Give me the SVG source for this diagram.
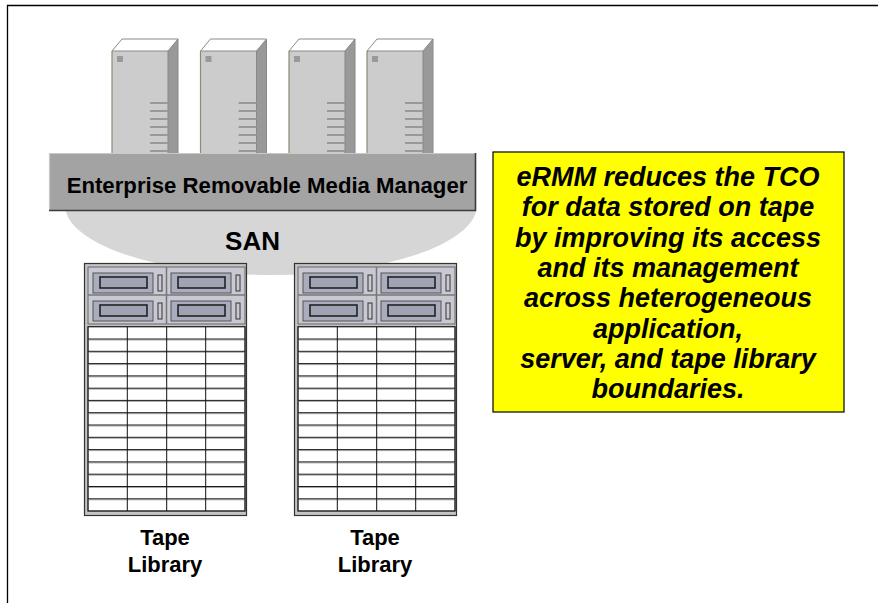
<svg xmlns="http://www.w3.org/2000/svg" xmlns:xlink="http://www.w3.org/1999/xlink" width="878" height="603" viewBox="0 0 878 603">
  <style>
    .lbl { font-family: "Liberation Sans", Arial, sans-serif; font-weight: bold; fill: #000; text-anchor: middle; }
    .note { font-family: "Liberation Sans", Arial, sans-serif; font-weight: bold; font-style: italic; font-size: 27px; fill: #000; text-anchor: middle; }
    .vent { fill: #999999; }
  </style>
  <defs>
    <!-- keeps only the part of the SAN cloud below the manager bar -->
    <clipPath id="belowBar">
      <rect x="0" y="211" width="878" height="392"/>
    </clipPath>
    <!-- tower server, origin at front-face top-left -->
    <g id="tower">
      <rect x="0" y="0" width="56" height="110" fill="#cccccc"/>
      <polygon points="56,0 66,-12 66,110 56,110" fill="#999999" stroke="#888888" stroke-width="1"/>
      <polygon points="0,0 10,-12 66,-12 56,0" fill="#ffffff" stroke="#8a8a8a" stroke-width="1"/>
      <line x1="0" y1="0" x2="0" y2="110" stroke="#8c8c74" stroke-width="1.2"/>
      <rect x="5" y="5" width="6" height="6" fill="#999999"/>
      <rect class="vent" x="38" y="51" width="18" height="2"/>
      <rect class="vent" x="38" y="59" width="18" height="2"/>
      <rect class="vent" x="38" y="67" width="18" height="2"/>
      <rect class="vent" x="38" y="75" width="18" height="2"/>
      <rect class="vent" x="38" y="83" width="18" height="2"/>
      <rect class="vent" x="38" y="91" width="18" height="2"/>
      <rect class="vent" x="38" y="99" width="18" height="2"/>
    </g>
    <!-- one drive bay of the tape library -->
    <g id="bay">
      <rect x="5" y="5" width="60" height="20" fill="#a9adbd" stroke="#555555" stroke-width="1"/>
      <rect x="12" y="9" width="47" height="11" fill="#9fa3b3" stroke="#222222" stroke-width="1.6"/>
      <rect x="70" y="7" width="4" height="16" fill="#c8c9d2" stroke="#333333" stroke-width="1"/>
    </g>
    <!-- tape library cabinet, origin at top-left -->
    <g id="library">
      <rect x="0.5" y="0.5" width="162" height="252" fill="#c4c4c4" stroke="#333333" stroke-width="1.2"/>
      <rect x="4" y="4" width="157" height="57" fill="#c8c9d2" stroke="#666666" stroke-width="1"/>
      <line x1="82.5" y1="4" x2="82.5" y2="61" stroke="#777777" stroke-width="1.5"/>
      <line x1="4" y1="32" x2="161" y2="32" stroke="#777777" stroke-width="1.5"/>
      <use xlink:href="#bay" x="4" y="5"/>
      <use xlink:href="#bay" x="82" y="5"/>
      <use xlink:href="#bay" x="4" y="33"/>
      <use xlink:href="#bay" x="82" y="33"/>
      <rect x="4" y="63.7" width="157" height="184.3" fill="#ffffff" stroke="#333333" stroke-width="1"/>
      <path d="M4 77 h157 M4 89.3 h157 M4 101.6 h157 M4 113.9 h157 M4 126.2 h157 M4 138.4 h157 M4 150.7 h157 M4 163 h157 M4 175.3 h157 M4 187.6 h157 M4 199.9 h157 M4 212.2 h157 M4 224.5 h157 M4 236.8 h157" stroke="#a8a8a8" stroke-width="1" fill="none"/>
      <path d="M4 76 h157 M4 88.3 h157 M4 100.6 h157 M4 112.9 h157 M4 125.2 h157 M4 137.4 h157 M4 149.7 h157 M4 162 h157 M4 174.3 h157 M4 186.6 h157 M4 198.9 h157 M4 211.2 h157 M4 223.5 h157 M4 235.8 h157" stroke="#1a1a1a" stroke-width="1" fill="none"/>
      <path d="M43.3 63.7 V248 M82.7 63.7 V248 M121.7 63.7 V248" stroke="#111111" stroke-width="1" fill="none"/>
      <rect x="4" y="63.7" width="157" height="184.3" fill="none" stroke="#222222" stroke-width="1"/>
    </g>
  </defs>

  <!-- page frame -->
  <path d="M7.5 603 V5.5 H878" fill="none" stroke="#000000" stroke-width="1.3"/>

  <g id="servers">
    <use xlink:href="#tower" x="112" y="51"/>
    <use xlink:href="#tower" x="200.5" y="51"/>
    <use xlink:href="#tower" x="289" y="51"/>
    <use xlink:href="#tower" x="367" y="51"/>
  </g>

  <g id="san">
    <ellipse cx="271" cy="205" rx="206" ry="70" fill="#d6d6d6" clip-path="url(#belowBar)"/>
    <text class="lbl" x="252.5" y="250" font-size="26">SAN</text>
  </g>

  <g id="ermm">
    <rect x="49" y="153" width="427" height="58" fill="#a3a3a3"/>
    <path d="M49.5 210 V153.5 H475" fill="none" stroke="#c9c9c9" stroke-width="1.2"/>
    <path d="M49 210.5 H475.5 V153" fill="none" stroke="#3c3c3c" stroke-width="1.6"/>
    <text class="lbl" x="267" y="193" font-size="22.2">Enterprise Removable Media Manager</text>
  </g>

  <g id="library1">
    <use xlink:href="#library" x="84" y="263"/>
    <text class="lbl" x="165" y="545" font-size="22">Tape</text>
    <text class="lbl" x="165" y="572" font-size="22">Library</text>
  </g>

  <g id="library2">
    <use xlink:href="#library" x="294" y="263"/>
    <text class="lbl" x="375" y="545" font-size="22">Tape</text>
    <text class="lbl" x="375" y="572" font-size="22">Library</text>
  </g>

  <g id="note">
    <rect x="493" y="152" width="351" height="260" fill="#ffff00" stroke="#000000" stroke-width="1.2"/>
    <text class="note" x="668" y="186">eRMM reduces the TCO</text>
    <text class="note" x="668" y="216.3">for data stored on tape</text>
    <text class="note" x="668" y="246.6">by improving its access</text>
    <text class="note" x="668" y="276.9">and its management</text>
    <text class="note" x="668" y="307.2">across heterogeneous</text>
    <text class="note" x="668" y="337.5">application,</text>
    <text class="note" x="668" y="367.8">server, and tape library</text>
    <text class="note" x="668" y="398.1">boundaries.</text>
  </g>
</svg>
